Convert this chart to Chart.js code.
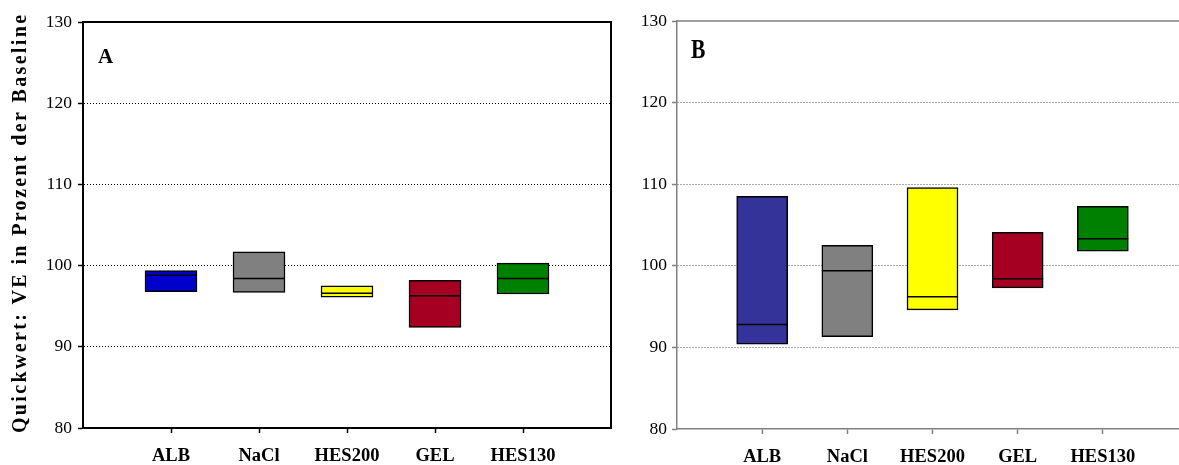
<!DOCTYPE html>
<html>
<head>
<meta charset="utf-8">
<script src="https://cdn.jsdelivr.net/npm/chart.js@4"></script>
<style>
  html, body { margin: 0; padding: 0; background: #fff; overflow: hidden; width: 1179px; height: 465px; }
  #wrapA { position: absolute; left: 0; top: 0; width: 616px; height: 465px; }
  #wrapB { position: absolute; left: 616px; top: 0; width: 580px; height: 465px; }
</style>
</head>
<body>
<div id="wrapA"><canvas id="chartA" width="616" height="465"></canvas></div>
<div id="wrapB"><canvas id="chartB" width="580" height="465"></canvas></div>
<script>
// Groups and y-axis range
const categories = ['ALB', 'NaCl', 'HES200', 'GEL', 'HES130'];
const yMin = 80;
const yMax = 130;
const yStep = 10;

// Panel A: box low / high and median
const lowA = [96.8, 96.7, 96.1, 92.4, 96.5];
const highA = [99.4, 101.7, 97.5, 98.2, 100.3];
const medianA = [98.8, 98.4, 96.6, 96.3, 98.4];

// Panel B: box low / high and median
const lowB = [90.4, 91.3, 94.6, 97.3, 101.8];
const highB = [108.5, 102.5, 109.6, 104.1, 107.3];
const medianB = [92.8, 99.4, 96.2, 98.4, 103.3];

const colorsA = ['#0000CC', '#808080', '#FFFF00', '#A50021', '#008000'];
const colorsB = ['#333399', '#808080', '#FFFF00', '#A50021', '#008000'];

const yTitle = 'Quickwert: VE in Prozent der Baseline';

// One empty slot on each side of the groups
const pad = (arr, fill) => [fill, ...arr, fill];
const labels = pad(categories, '');

const framePlugin = {
  id: 'frame',
  afterDraw(chart, args, o) {
    const { ctx, chartArea: a } = chart;
    ctx.save();
    ctx.strokeStyle = o.color;
    ctx.lineWidth = o.width;
    ctx.beginPath();
    ctx.moveTo(a.left, a.top);
    ctx.lineTo(a.right, a.top);
    ctx.lineTo(a.right, a.bottom);
    ctx.stroke();
    ctx.restore();

    // panel letter
    ctx.save();
    ctx.fillStyle = '#000';
    ctx.font = 'bold ' + o.letterSize + 'px "Liberation Serif"';
    ctx.textAlign = 'left';
    ctx.textBaseline = 'alphabetic';
    ctx.translate(a.left + o.letterDx, a.top + o.letterDy);
    ctx.scale(o.letterScaleX, 1);
    ctx.fillText(o.letter, 0, 0);
    ctx.restore();

    // rotated y-axis title
    if (o.title) {
      ctx.save();
      ctx.fillStyle = '#000';
      ctx.translate(o.titleX, o.titleY);
      ctx.rotate(-Math.PI / 2);
      ctx.font = 'bold 20px "Liberation Serif"';
      const w0 = ctx.measureText(o.title).width;
      const spacing = (o.titleLength - w0) / (o.title.length - 1);
      ctx.letterSpacing = spacing.toFixed(2) + 'px';
      ctx.textAlign = 'center';
      ctx.textBaseline = 'alphabetic';
      ctx.fillText(o.title, spacing / 2, 0);
      ctx.restore();
    }
  }
};

function makeChart(id, low, high, median, colors, p) {
  const boxes = pad(categories.map((_, i) => [low[i], high[i]]), null);
  return new Chart(document.getElementById(id), {
    type: 'bar',
    data: {
      labels: labels,
      datasets: [
        {
          type: 'line',
          data: pad(median, null),
          showLine: false,
          pointStyle: 'line',
          pointRadius: p.barWidth / 2,
          pointHoverRadius: p.barWidth / 2,
          pointBorderColor: '#000',
          pointBorderWidth: 1.5,
          order: 1
        },
        {
          type: 'bar',
          data: boxes,
          backgroundColor: pad(colors, 'rgba(0,0,0,0)'),
          borderColor: '#000',
          borderWidth: 1.5,
          borderSkipped: false,
          barThickness: p.barWidth,
          order: 2
        }
      ]
    },
    options: {
      responsive: false,
      animation: false,
      events: [],
      layout: {
        autoPadding: false,
        padding: { left: 0, right: p.padRight, top: p.padTop, bottom: 0 }
      },
      plugins: {
        legend: { display: false },
        tooltip: { enabled: false },
        frame: {
          color: p.axisColor, width: p.axisWidth, letter: p.letter,
          letterDx: p.letterDx, letterDy: p.letterDy,
          letterSize: p.letterSize, letterScaleX: p.letterScaleX,
          title: p.title, titleX: 26, titleY: 224, titleLength: 418
        }
      },
      scales: {
        x: {
          type: 'category',
          offset: false,
          afterFit(scale) {
            scale.height = p.xHeight;
            scale.paddingLeft = 0;
            scale.paddingRight = 0;
          },
          grid: {
            offset: false,
            drawOnChartArea: false,
            tickLength: 5,
            tickWidth: 1.5,
            tickColor: (c) => (c.index >= 1 && c.index <= categories.length) ? p.axisColor : 'rgba(0,0,0,0)'
          },
          border: { color: p.axisColor, width: p.axisWidth },
          ticks: {
            autoSkip: false,
            maxRotation: 0,
            padding: p.xPad,
            color: '#000',
            font: { family: '"Liberation Serif"', size: 18.5, weight: 'bold' }
          }
        },
        y: {
          min: yMin,
          max: yMax,
          afterFit(scale) {
            scale.width = p.yWidth;
            scale.paddingTop = 0;
            scale.paddingBottom = 0;
          },
          grid: {
            color: (c) => (c.tick && (c.tick.value === yMin || c.tick.value === yMax)) ? 'rgba(0,0,0,0)' : p.gridColor,
            lineWidth: 1,
            tickLength: 5,
            tickWidth: 1.5,
            tickColor: p.axisColor
          },
          border: { color: p.axisColor, width: p.axisWidth, dash: [1, 2] },
          ticks: {
            stepSize: yStep,
            padding: p.yPad,
            color: '#000',
            font: { family: '"Liberation Serif"', size: 17.5 }
          }
        }
      }
    },
    plugins: [framePlugin]
  });
}

makeChart('chartA', lowA, highA, medianA, colorsA, {
  letter: 'A', letterDx: 15, letterDy: 41, letterSize: 21, letterScaleX: 1, title: yTitle,
  axisColor: '#000', axisWidth: 2, gridColor: '#000', barWidth: 52,
  padRight: 5, padTop: 22, xHeight: 37, yWidth: 83, yPad: 6, xPad: 12
});

makeChart('chartB', lowB, highB, medianB, colorsB, {
  letter: 'B', letterDx: 14, letterDy: 36.5, letterSize: 27, letterScaleX: 0.8, title: null,
  axisColor: '#808080', axisWidth: 1.5, gridColor: '#555', barWidth: 51,
  padRight: 8, padTop: 21, xHeight: 36, yWidth: 61, yPad: 5, xPad: 12
});
</script>
</body>
</html>
